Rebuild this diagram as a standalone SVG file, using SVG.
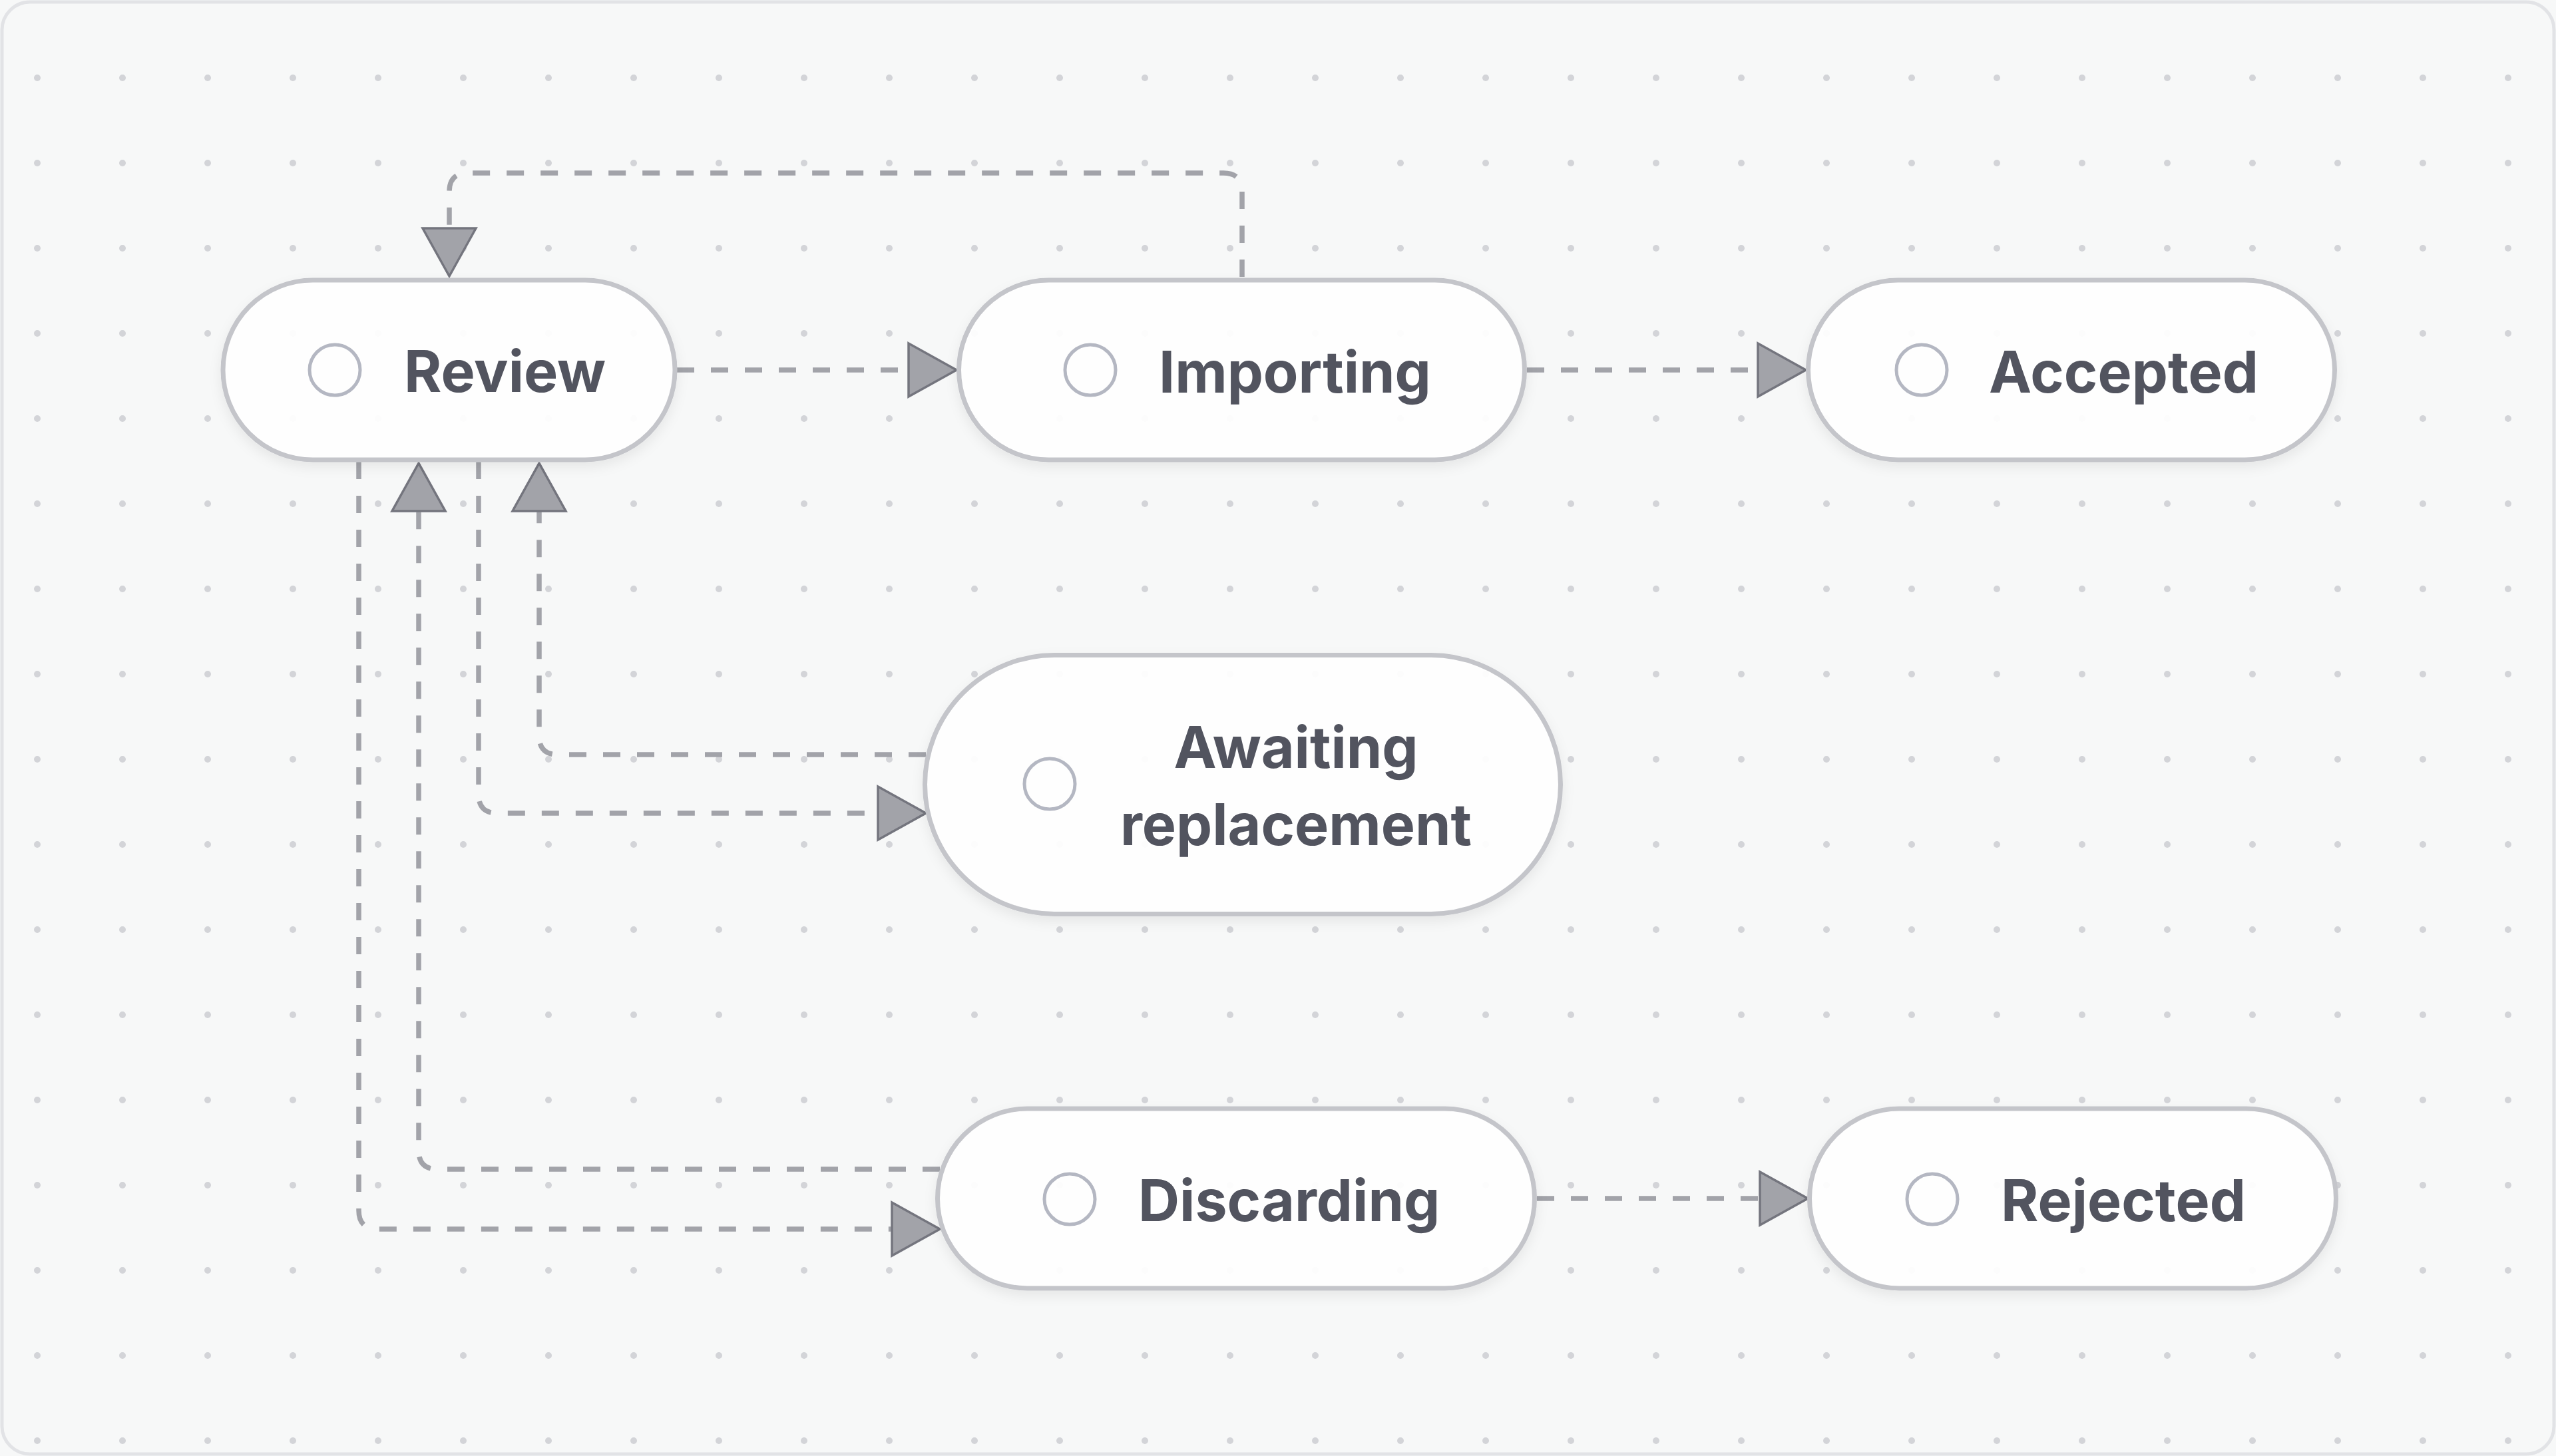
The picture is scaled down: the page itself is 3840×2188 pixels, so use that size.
<svg xmlns="http://www.w3.org/2000/svg" width="3840" height="2188" viewBox="0 0 3840 2188">
<style>
.node{fill:#ffffff;fill-opacity:0.93;stroke:#c4c5ca;stroke-width:7;filter:url(#sh)}
.ico{fill:none;stroke:#b4b7c2;stroke-width:5}
.lbl{font-family:Inter,"Liberation Sans",sans-serif;font-weight:700;font-size:86px;fill:#52545f}
.edge{fill:none;stroke:#a2a3a9;stroke-width:7.5;stroke-dasharray:26 25;marker-end:url(#ah)}
</style>
<defs>
<pattern id="dots" x="-8" y="53" width="128" height="128" patternUnits="userSpaceOnUse">
<circle cx="64" cy="64" r="5" fill="#d3d4d8"/>
</pattern>
<filter id="sh" x="-10%" y="-20%" width="120%" height="150%">
<feDropShadow dx="0" dy="8" stdDeviation="9" flood-color="#000" flood-opacity="0.07"/>
</filter>
<marker id="ah" markerUnits="userSpaceOnUse" viewBox="-4 -4 80 88" refX="0" refY="40" markerWidth="80" markerHeight="88" orient="auto" overflow="visible">
<path d="M0,0 L72,40 L0,80 Z" fill="#a2a3a9" stroke="#74757e" stroke-width="3.5" stroke-linejoin="miter"/>
</marker>
</defs>
<rect x="0" y="0" width="3840" height="2188" fill="#f7f8f8"/>
<rect x="0" y="0" width="3840" height="2188" fill="url(#dots)"/>
<rect x="3" y="3" width="3834" height="2182" rx="42" fill="none" stroke="#e2e3e6" stroke-width="5"/>
<g id="connectors">
<path class="edge" d="M1017,556 H1365"/>
<path class="edge" d="M2294,556 H2641"/>
<path class="edge" d="M1866,416 V288 Q1866,260 1838,260 H703 Q675,260 675,288 V343"/>
<path class="edge" d="M719,694 V1194 Q719,1222 747,1222 H1319"/>
<path class="edge" d="M1391,1134 H838 Q810,1134 810,1106 V768"/>
<path class="edge" d="M1412,1757 H657 Q629,1757 629,1729 V768"/>
<path class="edge" d="M539,694 V1819 Q539,1847 567,1847 H1340"/>
<path class="edge" d="M2309,1801 H2644"/>
</g>
<g id="review">
<rect class="node" x="335" y="421" width="679" height="270" rx="135"/>
<circle class="ico" cx="503" cy="556" r="38"/>
<text class="lbl" x="607" y="589">Review</text>
</g>
<g id="importing">
<rect class="node" x="1440.5" y="421" width="850" height="270" rx="135"/>
<circle class="ico" cx="1638" cy="556" r="38"/>
<text class="lbl" x="1741" y="590">Importing</text>
</g>
<g id="accepted">
<rect class="node" x="2716.5" y="421" width="791" height="270" rx="135"/>
<circle class="ico" cx="2887" cy="556" r="38"/>
<text class="lbl" x="2988" y="590">Accepted</text>
</g>
<g id="awaiting-replacement">
<rect class="node" x="1389.5" y="984.5" width="955" height="389" rx="194.5"/>
<circle class="ico" cx="1577" cy="1178" r="38"/>
<text class="lbl" x="1947" y="1154" text-anchor="middle">Awaiting</text>
<text class="lbl" x="1947" y="1270" text-anchor="middle">replacement</text>
</g>
<g id="discarding">
<rect class="node" x="1408.5" y="1666" width="897" height="270" rx="135"/>
<circle class="ico" cx="1607" cy="1802" r="38"/>
<text class="lbl" x="1710" y="1835">Discarding</text>
</g>
<g id="rejected">
<rect class="node" x="2718.5" y="1666" width="791" height="270" rx="135"/>
<circle class="ico" cx="2903" cy="1802" r="38"/>
<text class="lbl" x="3006" y="1835">Rejected</text>
</g>
</svg>
